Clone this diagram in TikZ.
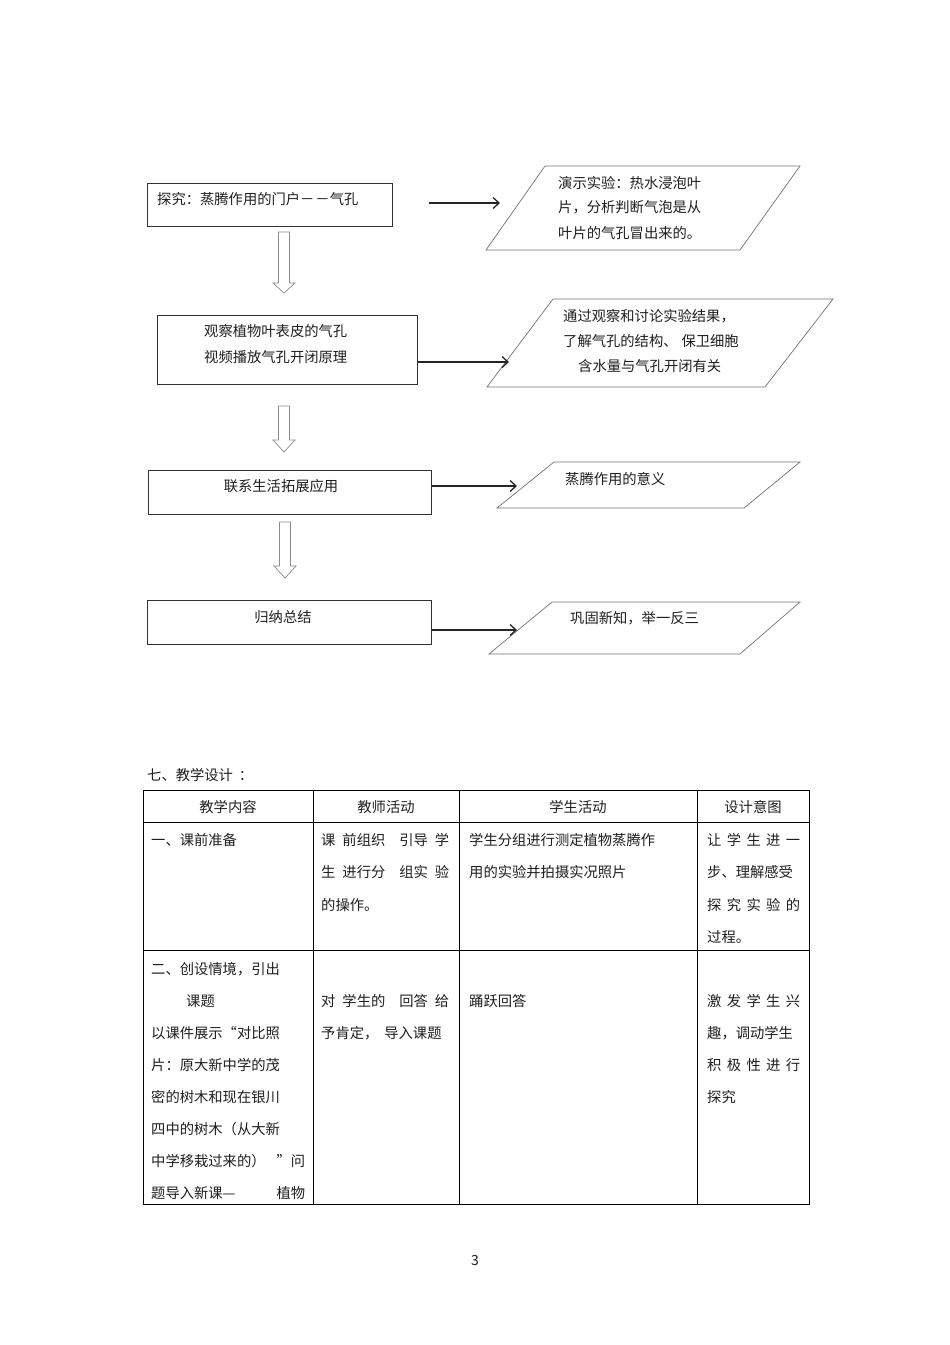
\documentclass[tikz,border=0pt]{standalone}
\usepackage{fontspec}
\setmainfont{Noto Sans CJK SC}
\usetikzlibrary{arrows.meta}
\newcommand\harr[5]{% name, cx, top, shaft bottom, tip
  \draw[hollow] (#2-5.5,#3) -- (#2+5.5,#3) -- (#2+5.5,#4) -- (#2+11,#4) -- (#2,#5) -- (#2-11,#4) -- (#2-5.5,#4) -- cycle;
  \coordinate (#1) at (#2,#5);}
\begin{document}
\begin{tikzpicture}[x=1pt,y=-1pt,
  every node/.style={font=\fontsize{14.3}{17}\selectfont, inner sep=0pt, text=black!88},
  box/.style={draw=black!80, line width=0.9pt, anchor=north west},
  para/.style={draw=black!55, line width=0.7pt},
  link/.style={draw=black!85, line width=1.3pt, -{Straight Barb[length=6pt,width=11pt,line width=1.3pt]}},
  hollow/.style={draw=black!45, line width=0.7pt, fill=white},
  txt/.style={anchor=west},
  grid/.style={draw=black, line width=0.8pt}]
\useasboundingbox (0,0) rectangle (950,1345);
\fill[white] (0,0) rectangle (950,1345);

% ---- flow boxes
\node[box, minimum width=245pt, minimum height=43pt] (b1) at (147,183) {};
\node[txt] (t1) at (157,199) {探究：蒸腾作用的门户－\kern1pt－气孔};
\node[box, minimum width=260pt, minimum height=69pt] (b2) at (157,315) {};
\node[txt] (t2a) at (204,331) {观察植物叶表皮的气孔};
\node[txt] (t2b) at (204,357) {视频播放气孔开闭原理};
\node[box, minimum width=283pt, minimum height=44pt] (b3) at (148,470) {};
\node (t3) at (281,486) {联系生活拓展应用};
\node[box, minimum width=284pt, minimum height=44pt] (b4) at (147,600) {};
\node (t4) at (283,617) {归纳总结};

% ---- parallelograms
\draw[para] (545,166) -- (800,166) -- (740,250) -- (486,250) -- cycle;
\node[txt] (p1a) at (558,183) {演示实验：热水浸泡叶};
\node[txt] (p1b) at (558,207) {片，分析判断气泡是从};
\node[txt] (p1c) at (558,233) {叶片的气孔冒出来的。};
\draw[para] (553,299) -- (833,299) -- (765,387) -- (487,387) -- cycle;
\node[txt] (p2a) at (563,316) {通过观察和讨论实验结果，};
\node[txt] (p2b) at (563,341) {了解气孔的结构、\hspace{4pt}保卫细胞};
\node[txt] (p2c) at (578,366) {含水量与气孔开闭有关};
\draw[para] (554,462) -- (800,462) -- (744,508) -- (497,508) -- cycle;
\node[txt] (p3) at (565,479) {蒸腾作用的意义};
\draw[para] (552,602) -- (800,602) -- (740,654) -- (489,654) -- cycle;
\node[txt] (p4) at (570,618) {巩固新知，举一反三};

% ---- connectors
\coordinate (a1s) at (429,203); \coordinate (a1e) at (500,203);
\draw[link] (a1s) -- (a1e);
\coordinate (a2s) at (b2.east |- 0,362); \coordinate (a2e) at (509,362);
\draw[link] (a2s) -- (a2e);
\coordinate (a3s) at (b3.east |- 0,486); \coordinate (a3e) at (517,486);
\draw[link] (a3s) -- (a3e);
\coordinate (a4s) at (b4.east |- 0,630); \coordinate (a4e) at (517,630);
\draw[link] (a4s) -- (a4e);

\harr{h1}{284}{232}{283}{293}
\harr{h2}{284}{406}{440}{452}
\harr{h3}{285}{522}{566}{578}

% ---- table
\node[txt] (title) at (147,775) {七、教学设计\hspace{6pt}：};
\draw[grid] (143,790) rectangle (809,1204);
\draw[grid] (143,822) -- (809,822);
\draw[grid] (143,950) -- (809,950);
\foreach \cx in {313,459,697} \draw[grid] (\cx,790) -- (\cx,1204);

\node (h1t) at (228,807) {教学内容};
\node (h2t) at (386,807) {教师活动};
\node (h3t) at (578,807) {学生活动};
\node (h4t) at (753,807) {设计意图};

\node[txt] (r1c1) at (151,840) {一、课前准备};
\node[txt] (r1c2a) at (321,840) {\makebox[128pt][s]{课 前组织~~引导 学}};
\node[txt] (r1c2b) at (321,872) {\makebox[128pt][s]{生 进行分~~组实 验}};
\node[txt] (r1c2c) at (321,905) {的操作。};
\node[txt] (r1c3a) at (469,840) {学生分组进行测定植物蒸腾作};
\node[txt] (r1c3b) at (469,872) {用的实验并拍摄实况照片};
\node[txt] (r1c4a) at (707,840) {\makebox[93pt][s]{让 学 生 进 一}};
\node[txt] (r1c4b) at (707,872) {步、理解感受};
\node[txt] (r1c4c) at (707,905) {\makebox[93pt][s]{探 究 实 验 的}};
\node[txt] (r1c4d) at (707,937) {过程。};

\node[txt] (r2c1a) at (151,969) {二、创设情境，引出};
\node[txt] (r2c1b) at (186,1001) {课题};
\node[txt] (r2c1c) at (151,1033) {以课件展示“对比照};
\node[txt] (r2c1d) at (151,1065) {片：原大新中学的茂};
\node[txt] (r2c1e) at (151,1097) {密的树木和现在银川};
\node[txt] (r2c1f) at (151,1129) {四中的树木（从大新};
\node[txt] (r2c1g) at (151,1161) {\makebox[154pt][s]{中学移栽过来的）\hfill ”问}};
\node[txt] (r2c1h) at (151,1193) {\makebox[154pt][s]{题导入新课—\hfill 植物}};
\node[txt] (r2c2a) at (321,1001) {\makebox[128pt][s]{对 学生的~~回答 给}};
\node[txt] (r2c2b) at (321,1033) {予肯定，\hspace{6pt}导入课题};
\node[txt] (r2c3) at (469,1001) {踊跃回答};
\node[txt] (r2c4a) at (707,1001) {\makebox[93pt][s]{激 发 学 生 兴}};
\node[txt] (r2c4b) at (707,1033) {趣，调动学生};
\node[txt] (r2c4c) at (707,1065) {\makebox[93pt][s]{积 极 性 进 行}};
\node[txt] (r2c4d) at (707,1097) {探究};

\node[font=\fontsize{14}{16}\selectfont] (pg) at (475,1260) {3};
\end{tikzpicture}
\end{document}
